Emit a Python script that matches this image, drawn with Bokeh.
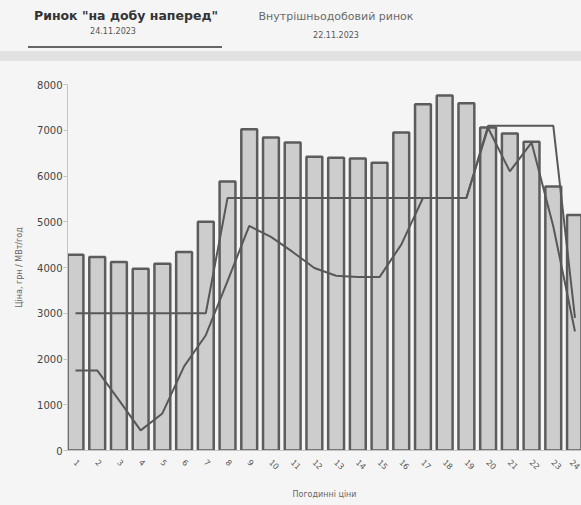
import math
from bokeh.plotting import figure
from bokeh.layouts import column
from bokeh.models import Range1d, FixedTicker, ColumnDataSource, Div
from bokeh.embed import file_html
from bokeh.resources import INLINE

# ---- data ----
hours = list(range(1, 25))
hour_labels = [str(h) for h in hours]
dam_price = [4280, 4230, 4120, 3970, 4080, 4340, 5000, 5880, 7020, 6840, 6730, 6420,
             6400, 6380, 6290, 6950, 7570, 7760, 7590, 7060, 6930, 6750, 5770, 5150]
price_cap = [3000, 3000, 3000, 3000, 3000, 3000, 3000, 5520, 5520, 5520, 5520, 5520,
             5520, 5520, 5520, 5520, 5520, 5520, 5520, 7100, 7100, 7100, 7100, 2900]
idm_price = [1750, 1750, 1100, 440, 810, 1840, 2520, 3700, 4910, 4670, 4340, 3990,
             3820, 3790, 3790, 4500, 5520, 5520, 5520, 7050, 6100, 6730, 4900, 2600]
y_ticks = [0, 1000, 2000, 3000, 4000, 5000, 6000, 7000, 8000]
legend_titles = ['Ринок "на добу наперед"', 'Внутрішньодобовий ринок']
legend_dates = ['24.11.2023', '22.11.2023']
y_title = "Ціна, грн / МВт/год"
x_title = "Погодинні ціни"

BG = "#f5f5f5"
FONT = "DejaVu Sans"
W, H = 581, 505
TOP_H = 66
FRAME_L, FRAME_T, FRAME_B = 67, 84, 450
BAR1_PX = 75
X_END = 24.3

spacing = (W - BAR1_PX) / (X_END - 1)
x_start = 1 - (BAR1_PX - FRAME_L) / spacing


def centered(text, cx, cy, size, color, weight="normal"):
    return (f'<span style="position:absolute;left:{cx}px;top:{cy}px;'
            f'transform:translate(-50%,-50%);white-space:nowrap;font-size:{size}px;'
            f'font-weight:{weight};color:{color};">{text}</span>')


header_html = (
    f'<div style="position:relative;width:{W}px;height:{TOP_H}px;background:{BG};'
    f'font-family:\'{FONT}\';overflow:hidden;">'
    f'<div style="position:absolute;left:0;top:51px;width:{W}px;height:10px;background:#e2e2e2;"></div>'
    f'<div style="position:absolute;left:28px;top:46px;width:194px;height:2px;background:#666666;"></div>'
    + centered(legend_titles[0].replace('"', '&quot;'), 126, 16, 12.5, "#333333", "bold")
    + centered(legend_titles[1], 336, 17, 11, "#6a6a6a")
    + centered(legend_dates[0], 113, 32, 8, "#555555")
    + centered(legend_dates[1], 336, 36, 8, "#555555")
    + '</div>'
)
header = Div(text=header_html, width=W, height=TOP_H, margin=0,
             styles={"background-color": BG})

p = figure(width=W, height=H - TOP_H, output_backend="svg", toolbar_location=None,
           x_range=Range1d(x_start, X_END), y_range=Range1d(0, 8000),
           min_border_left=FRAME_L, min_border_right=0, min_border_top=FRAME_T - TOP_H,
           min_border_bottom=H - FRAME_B,
           background_fill_color=BG, border_fill_color=BG)
p.outline_line_color = None
p.grid.visible = False

src = ColumnDataSource(dict(h=hours, dam=dam_price, cap=price_cap, idm=idm_price))
p.vbar(x="h", top="dam", width=0.73, source=src, fill_color="#cdcdcd",
       line_color="#5c5c5c", line_width=2.5)
p.line(x="h", y="cap", source=src, line_color="#585858", line_width=2)
p.line(x="h", y="idm", source=src, line_color="#585858", line_width=2)

# ---- axes ----
p.yaxis.ticker = FixedTicker(ticks=y_ticks)
p.yaxis.axis_line_color = "#c4c4c4"
p.yaxis.major_tick_line_color = "#c4c4c4"
p.yaxis.major_tick_out = 4
p.yaxis.major_tick_in = 0
p.yaxis.minor_tick_line_color = None
p.yaxis.major_label_text_font = FONT
p.yaxis.major_label_text_font_size = "10px"
p.yaxis.major_label_text_color = "#444444"
p.yaxis.major_label_standoff = 1
p.yaxis.axis_label = y_title
p.yaxis.axis_label_text_font = FONT
p.yaxis.axis_label_text_font_size = "8px"
p.yaxis.axis_label_text_font_style = "normal"
p.yaxis.axis_label_text_color = "#666666"
p.yaxis.axis_label_standoff = 10

p.xaxis.ticker = FixedTicker(ticks=hours)
p.xaxis.major_label_overrides = {h: l for h, l in zip(hours, hour_labels)}
p.xaxis.major_label_orientation = -math.pi / 4
p.xaxis.axis_line_color = "#c4c4c4"
p.xaxis.major_tick_line_color = None
p.xaxis.minor_tick_line_color = None
p.xaxis.major_label_text_font = FONT
p.xaxis.major_label_text_font_size = "8px"
p.xaxis.major_label_text_color = "#555555"
p.xaxis.major_label_standoff = 4
p.xaxis.axis_label = x_title
p.xaxis.axis_label_text_font = FONT
p.xaxis.axis_label_text_font_size = "8px"
p.xaxis.axis_label_text_font_style = "normal"
p.xaxis.axis_label_text_color = "#666666"
p.xaxis.axis_label_standoff = 14

layout = column(header, p, spacing=0, styles={"background-color": BG})
open("out.html", "w").write(file_html(layout, INLINE))
